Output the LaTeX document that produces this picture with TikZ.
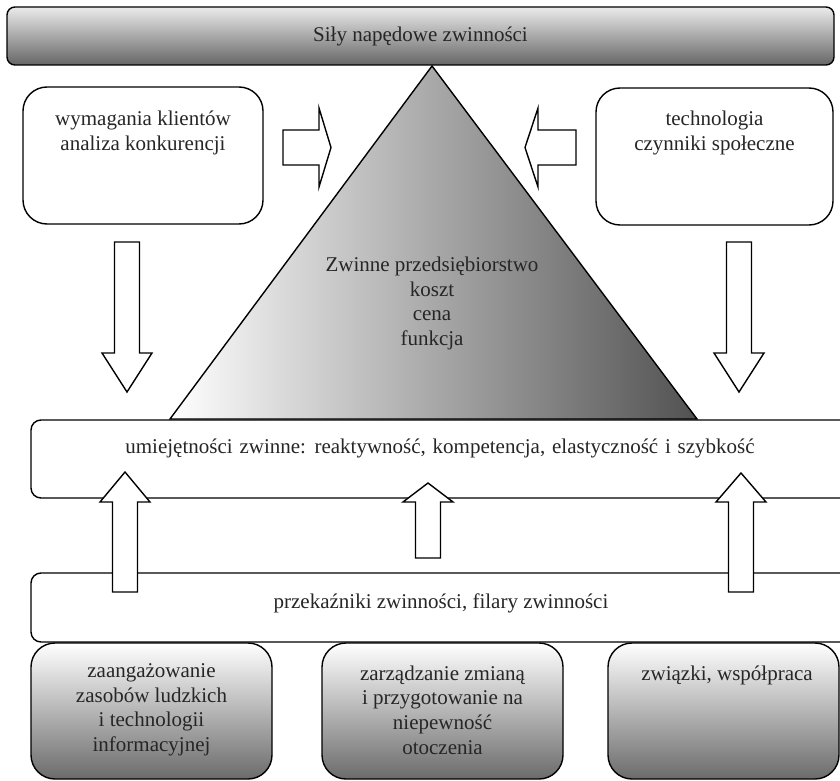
\documentclass[tikz,border=0pt]{standalone}
\usepackage{fontspec}
\setmainfont{Liberation Serif}
\newcommand{\varr}[4]{% #1: x, #2: y tail, #3: y head, #4: y tip
	\draw[blk] ({#1-12.5},#2) -- ({#1-12.5},#3) -- ({#1-25},#3) -- (#1,#4)
		-- ({#1+25},#3) -- ({#1+12.5},#3) -- ({#1+12.5},#2) -- cycle;
}
\newcommand{\harr}[4]{% #1: y, #2: x tail, #3: x head, #4: x tip
	\draw[blk] (#2,{#1-17.5}) -- (#3,{#1-17.5}) -- (#3,{#1-39.5}) -- (#4,#1)
		-- (#3,{#1+39.5}) -- (#3,{#1+17.5}) -- (#2,{#1+17.5}) -- cycle;
}

\begin{document}
\begin{tikzpicture}[x=0.5pt,y=-0.5pt,
	font=\fontsize{10.5}{12.3}\selectfont,text=black!85,
	box/.style={draw,line width=0.7pt,rounded corners=12pt,inner sep=0pt,fill=white},
	bar/.style={box,rounded corners=4pt,top color=black!8,bottom color=black!60},
	band/.style={box,rounded corners=5pt},
	pillar/.style={box,top color=white,bottom color=black!58},
	blk/.style={draw,line width=0.7pt,fill=white,line join=miter},
	txt/.style={align=center,inner sep=0pt}]
	% Frame
	\useasboundingbox (0,0) rectangle (840,781);
	\clip (0,0) rectangle (840,781);
	
	% Drivers
	\node[bar,minimum width=413.5pt,minimum height=29pt] (sily) at (420.5,36) {Siły napędowe zwinności};
	\node[box,minimum width=120pt,minimum height=68.5pt] (klienci) at (143,155.5) {};
	\node[txt] (klienci-t) at (143,133) {wymagania klientów\\analiza konkurencji};
	\node[box,minimum width=118.5pt,minimum height=68.5pt] (techn) at (714.5,156.5) {};
	\node[txt] (techn-t) at (714.5,133) {technologia\\czynniki społeczne};
	
	% Bands
	\node[band,minimum width=409.5pt,minimum height=39pt] (umiej) at (440.5,459) {};
	\node[txt] (umiej-t) at (440,448) {\spaceskip=3.4pt umiejętności zwinne: reaktywność, kompetencja, elastyczność i szybkość};
	\node[band,minimum width=409.5pt,minimum height=34.5pt] (przek) at (440.5,607.5) {};
	\node[txt] (przek-t) at (441,603) {przekaźniki zwinności, filary zwinności};
	
	% Triangle
	\draw[line width=0.7pt,left color=white,right color=black!68] (432,66) coordinate (apex) -- (170,419) -- (697,419) -- cycle;
	\node[txt] (zwinne) at (432,303.5) {Zwinne przedsiębiorstwo\\koszt\\cena\\funkcja};
	
	% Arrows
	\harr{147.5}{283}{319}{331}
	\harr{147.5}{576}{538}{525}
	\varr{127}{242}{353}{392}
	\varr{739}{242}{353}{392}
	\varr{125}{592}{502}{472}
	\varr{428}{558}{502}{483}
	\varr{741}{592}{502}{473}
	
	% Pillars
	\node[pillar,minimum width=120.5pt,minimum height=68pt] (ludzie) at (151.5,711) {};
	\node[txt] (ludzie-t) at (151.5,710) {zaangażowanie\\zasobów ludzkich\\i technologii\\informacyjnej};
	\node[pillar,minimum width=120.5pt,minimum height=68pt] (zmiana) at (442.5,711) {};
	\node[txt] (zmiana-t) at (442.5,710) {zarządzanie zmianą\\i przygotowanie na\\niepewność\\otoczenia};
	\node[pillar,minimum width=115.5pt,minimum height=68pt] (zwiazki) at (723.5,711) {};
	\node[txt] (zwiazki-t) at (727,675) {związki, współpraca};
\end{tikzpicture}
\end{document}
